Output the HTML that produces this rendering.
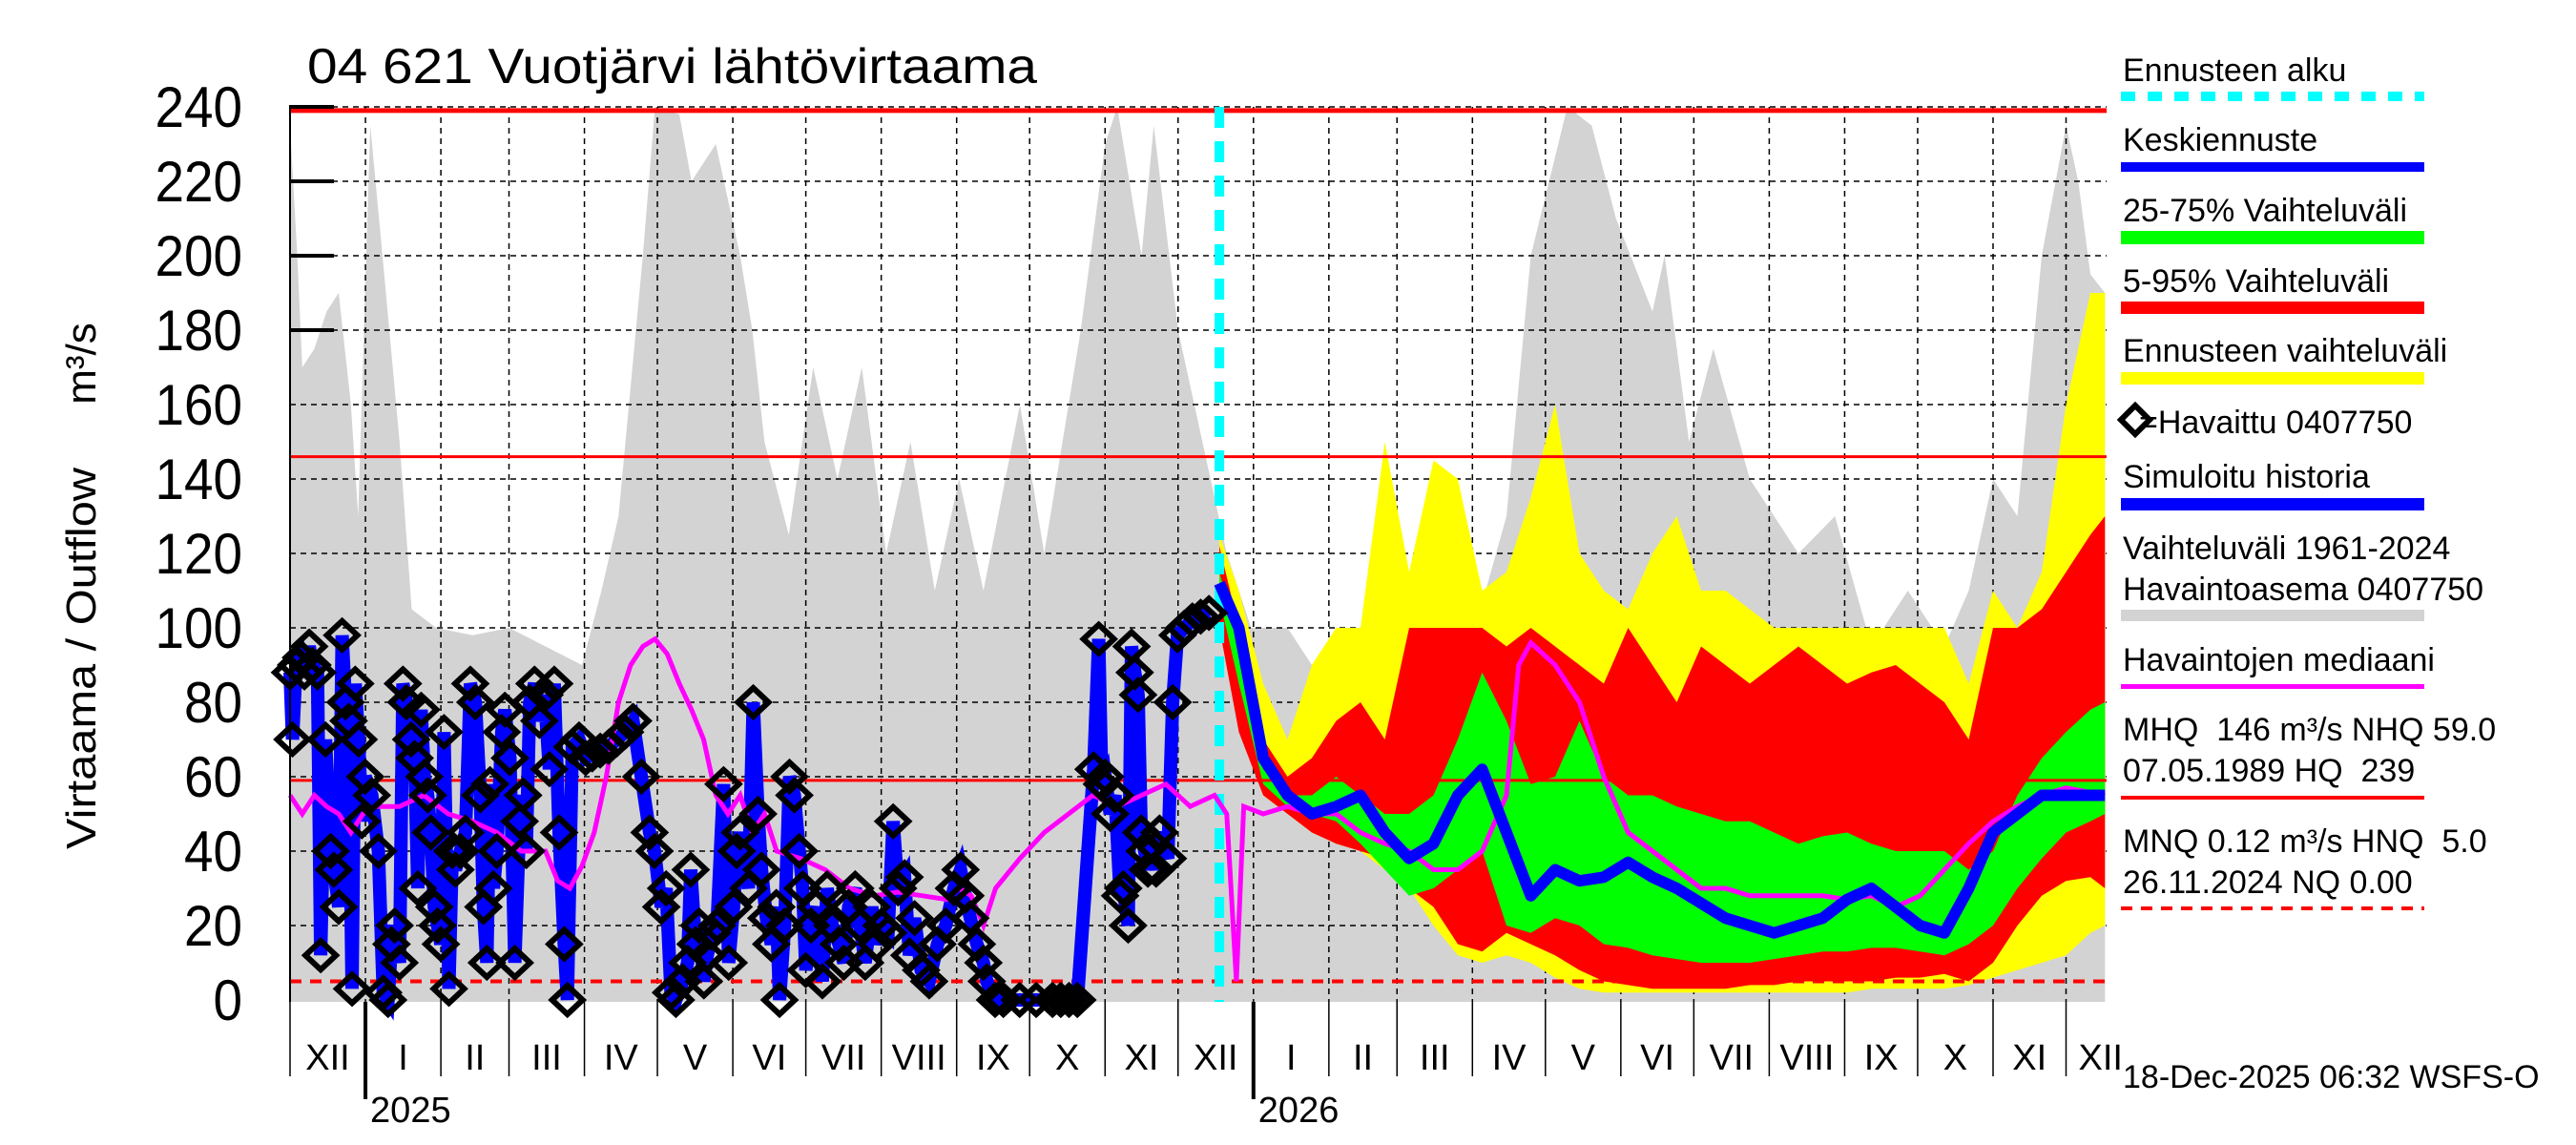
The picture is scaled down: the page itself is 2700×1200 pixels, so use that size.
<!DOCTYPE html>
<html><head><meta charset="utf-8">
<style>html,body{margin:0;padding:0;background:#fff}svg{display:block}text{font-family:"Liberation Sans",sans-serif}</style>
</head><body>
<svg id="chart" xmlns="http://www.w3.org/2000/svg" width="2700" height="1200" viewBox="0 0 2700 1200">
<rect x="0" y="0" width="2700" height="1200" fill="#fff"/>
<g id="plot"></g>
<text x="322" y="87" font-size="52" textLength="765" lengthAdjust="spacingAndGlyphs">04 621 Vuotjärvi lähtövirtaama</text>
<text transform="translate(100,690) rotate(-90)" text-anchor="middle" font-size="44" textLength="400" lengthAdjust="spacingAndGlyphs">Virtaama / Outflow</text>
<text transform="translate(100,381) rotate(-90)" text-anchor="middle" font-size="44">m³/s</text>
<g id="legend" font-size="34">
 <text x="2225" y="85">Ennusteen alku</text>
 <line x1="2223" y1="101" x2="2541" y2="101" stroke="#00ffff" stroke-width="10" stroke-dasharray="15,13"/>
 <text x="2225" y="158">Keskiennuste</text>
 <rect x="2223" y="170" width="318" height="10" fill="#0000ff"/>
 <text x="2225" y="232">25-75% Vaihteluväli</text>
 <rect x="2223" y="242" width="318" height="14" fill="#00ff00"/>
 <text x="2225" y="306">5-95% Vaihteluväli</text>
 <rect x="2223" y="316" width="318" height="13" fill="#ff0000"/>
 <text x="2225" y="379">Ennusteen vaihteluväli</text>
 <rect x="2223" y="390" width="318" height="13" fill="#ffff00"/>
 <polygon points="2223,440 2238,425 2253,440 2238,455" fill="none" stroke="#000" stroke-width="6"/>
 <text x="2242" y="454">=Havaittu 0407750</text>
 <text x="2225" y="511">Simuloitu historia</text>
 <rect x="2223" y="522" width="318" height="13" fill="#0000ff"/>
 <text x="2225" y="586">Vaihteluväli 1961-2024</text>
 <text x="2225" y="629">Havaintoasema 0407750</text>
 <rect x="2223" y="639" width="318" height="12" fill="#d3d3d3"/>
 <text x="2225" y="703">Havaintojen mediaani</text>
 <rect x="2223" y="717" width="318" height="5" fill="#ff00ff"/>
 <text x="2225" y="776" xml:space="preserve">MHQ  146 m³/s NHQ 59.0</text>
 <text x="2225" y="819" xml:space="preserve">07.05.1989 HQ  239</text>
 <rect x="2223" y="834" width="318" height="4" fill="#ff0000"/>
 <text x="2225" y="893" xml:space="preserve">MNQ 0.12 m³/s HNQ  5.0</text>
 <text x="2225" y="936">26.11.2024 NQ 0.00</text>
 <line x1="2223" y1="952" x2="2541" y2="952" stroke="#ff0000" stroke-width="4" stroke-dasharray="12,9"/>
</g>
<text x="2225" y="1140" font-size="34">18-Dec-2025 06:32 WSFS-O</text>
</svg>
<script>
// ---- data (days since 2024-12-01, values in m3/s) ----
const grayDays = [0,3,5,10,15,20,25,28,33,38,45,50,60,75,90,105,120,128,135,145,150,160,165,175,185,190,195,205,215,225,235,245,255,265,275,285,300,310,325,335,340,350,355,365,375,385,395,410,425,440,455,470,485,500,510,525,535,545,560,565,575,585,600,620,635,650,665,680,690,700,710,720,730,735,740,746];
const grayHigh = [235,200,170,175,185,190,160,130,235,200,150,105,100,98,100,95,90,110,130,200,240,238,220,230,200,180,150,125,170,140,170,120,150,110,140,110,160,120,180,230,240,200,235,180,150,120,100,100,85,100,100,100,95,130,200,240,235,210,185,200,150,175,140,120,130,95,110,95,110,140,130,200,235,220,195,190];
const fcDays = [382,390,400,410,420,430,440,450,460,470,480,490,500,510,520,530,540,550,560,570,580,590,600,610,620,630,640,650,660,670,680,690,700,710,720,730,740,746];
const yellowHigh = [125,110,85,70,90,100,100,150,115,145,140,110,115,135,160,120,110,105,120,130,110,110,105,100,100,100,100,100,100,100,100,85,110,100,115,160,190,190];
const yellowLow = [100,75,55,50,45,42,40,35,30,20,12,10,12,10,6,3,2,2,2,2,2,2,2,2,2,2,2,3,3,3,3,4,6,8,10,12,18,20];
const redHigh = [122,100,70,60,65,75,80,70,100,100,100,100,95,100,95,90,85,100,90,80,95,90,85,90,95,90,85,88,90,85,80,70,100,100,105,115,125,130];
const redLow = [100,72,55,50,45,42,40,38,30,25,15,13,18,15,12,8,5,4,3,3,3,3,4,4,5,5,5,5,6,6,7,5,10,20,28,32,33,30];
const greenHigh = [115,95,62,55,55,60,55,50,50,55,70,88,75,58,60,75,60,55,55,52,50,48,48,45,42,44,45,42,40,40,40,35,40,55,65,72,78,80];
const greenLow = [108,85,58,52,50,48,42,35,28,30,35,40,20,18,22,20,15,14,12,11,10,10,10,11,12,13,13,14,14,13,12,15,20,30,38,45,48,50];
const medianForecast = [112,100,65,55,50,52,55,45,38,42,55,62,45,28,35,32,33,37,33,30,26,22,20,18,20,22,27,30,25,20,18,30,45,50,55,55,55,55];
const medDays = [0,5,10,15,20,25,30,35,45,55,65,75,85,95,105,110,115,120,125,130,135,140,145,150,155,160,165,170,175,180,185,190,195,200,210,220,230,240,250,260,270,275,280,285,290,300,310,320,330,340,350,360,370,380,385,389,392,400,410,420,430,440,450,460,470,480,490,500,505,510,520,530,540,550,560,570,580,590,600,610,620,630,640,650,660,670,680,690,700,710,720,730,746];
const medValues = [55,50,55,52,50,45,50,52,52,55,50,48,45,40,40,32,30,36,45,60,80,90,95,97,93,85,78,70,55,50,55,45,50,40,38,35,30,28,29,28,27,30,28,20,30,38,45,50,55,52,55,58,52,55,50,5,52,50,52,50,50,45,42,40,35,35,40,55,90,96,90,80,60,45,40,35,30,30,28,28,28,28,27,28,25,28,35,42,48,52,55,57,55];
const obsDays = [0,1,2.5,4.5,5.9,7.9,9.2,11.3,12.6,14.6,16.7,18,20,21.4,22.8,24.1,25.5,26.8,28.2,29.5,30.9,33.6,36.3,38.3,40.3,41.7,43,45,46.4,47.8,49.8,51.2,52.5,53.9,55.2,56.6,57.9,59.3,60.6,62,63.3,65.3,66.7,68,70,72.1,74.1,76.2,78.2,79.5,80.9,82.2,83.6,85,87,88.3,90.4,92.4,94.4,95.8,97.1,98.5,100.5,102.5,104.6,106.6,108.6,110.6,112.7,114,116,118.8,121.5,124.2,127.5,130.9,134.3,137.7,141,144.4,147.8,149.8,152.6,154.6,156.6,158.6,161.3,163.4,164.7,166.7,168.1,170.1,171.5,173.5,175.5,178.2,180.3,182.3,183.6,185,188.4,190.4,192.4,193.8,195.8,197.8,199.9,201.2,203.3,205.3,207.3,209.3,210.7,212,214.1,216.1,218.8,220.8,222.9,225.6,227.6,229.6,232.3,234.3,236.4,239.1,241.1,243.1,245.8,247.9,249.9,252.6,254.6,256.7,259.4,262.7,266.1,269.5,272.9,275.6,277.6,279.6,282.3,285,286.4,289.8,293.2,299.9,306.7,313.4,316.8,320.2,323.6,330.3,332.4,333.7,335.1,337.1,339.1,341.2,342.5,344.5,345.9,347.2,348.6,349.9,351.3,352.6,354,356,357.4,360.8,362.8,364.8,367.5,370.9,374.3,377.7];
const obsValues = [88,70,90,92,88,95,90,88,12,70,40,35,25,98,80,75,3,85,70,48,60,55,40,2,0,15,20,10,85,80,70,65,30,78,60,55,45,25,20,15,72,3,40,35,40,45,85,80,55,25,10,58,30,40,72,78,65,10,48,55,40,80,85,75,82,62,85,45,15,0,68,70,65,66,67,68,70,72,75,60,45,40,25,30,2,0,5,10,35,15,20,5,12,18,20,58,10,25,40,45,30,80,50,35,22,15,25,0,20,60,55,40,30,8,20,25,5,30,20,15,10,25,30,20,10,25,15,20,18,48,30,33,12,22,8,5,15,20,30,35,28,22,15,10,5,0,0,0,0,0,0,0,0,62,97,58,60,50,55,28,30,20,95,88,82,45,40,35,42,35,45,38,80,98,100,102,103,104];
const simDays = obsDays;
const simValues = obsValues;
const yTicks = [0,20,40,60,80,100,120,140,160,180,200,220,240];
const monthLabels = ["XII","I","II","III","IV","V","VI","VII","VIII","IX","X","XI","XII","I","II","III","IV","V","VI","VII","VIII","IX","X","XI","XII"];
const yearLabels = ["2025","2026"];
const refLines = [239,146,59];
const hnqLevel = 5;
const forecastStartDay = 382;

const X0=304, X1=2208, PXD=2.55, Y0=1048, PXV=3.9, YB=1050;
function X(d){return X0+PXD*d;}
function Y(v){return Y0-PXV*v;}
const NS='http://www.w3.org/2000/svg';
const plot=document.getElementById('plot');
function mk(tag,attrs,parent){const e=document.createElementNS(NS,tag);for(const k in attrs)e.setAttribute(k,attrs[k]);(parent||plot).appendChild(e);return e;}
function band(days,hi,lo){let p=days.map((d,i)=>X(d).toFixed(1)+','+Y(hi[i]).toFixed(1));for(let i=days.length-1;i>=0;i--)p.push(X(days[i]).toFixed(1)+','+Y(lo[i]).toFixed(1));return p.join(' ');}
function line(days,vals){return days.map((d,i)=>X(d).toFixed(1)+','+Y(vals[i]).toFixed(1)).join(' ');}

const g=mk('polygon',{points:band(grayDays,grayHigh,grayDays.map(()=>-0.5)),fill:'#d3d3d3'});



const mStarts=[];
for(let i=0;i<=25;i++){const dt=new Date(Date.UTC(2024,11+i,1));mStarts.push(Math.round((dt-Date.UTC(2024,11,1))/86400000));}
mStarts.forEach((d,i)=>{if(i===0||X(d)>X1)return;
 const l=mk('line',{x1:X(d),y1:Y(240),x2:X(d),y2:YB,stroke:'#000','stroke-width':1.5,'stroke-dasharray':'6,5'});
 
 });
yTicks.forEach(v=>{if(v===0)return;
 const l=mk('line',{x1:X0,y1:Y(v),x2:X1,y2:Y(v),stroke:'#000','stroke-width':1.5,'stroke-dasharray':'6,5'});
 
 });

[[yellowHigh,yellowLow,'#ffff00','forecast-range-band'],[redHigh,redLow,'#ff0000','band-5-95'],[greenHigh,greenLow,'#00ff00','band-25-75']].forEach(b=>{
 const e=mk('polygon',{points:band(fcDays,b[0],b[1]),fill:b[2]});
 
 });

refLines.forEach(v=>{const e=mk('line',{x1:X0,y1:Y(v),x2:X1,y2:Y(v),stroke:'#ff0000','stroke-width':v===239?5:3});
 
 });
const hl=mk('line',{x1:X0,y1:Y(hnqLevel),x2:X1,y2:Y(hnqLevel),stroke:'#ff0000','stroke-width':4,'stroke-dasharray':'12,9'});



const sl=mk('polyline',{points:line(simDays,simValues),fill:'none',stroke:'#0000ff','stroke-width':14,'stroke-linejoin':'miter'});



const fs=mk('line',{x1:X(forecastStartDay),y1:Y(240),x2:X(forecastStartDay),y2:YB,stroke:'#00ffff','stroke-width':10,'stroke-dasharray':'22,14'});



const ml=mk('polyline',{points:line(medDays,medValues),fill:'none',stroke:'#ff00ff','stroke-width':5});



const bl=mk('polyline',{points:line(fcDays,medianForecast),fill:'none',stroke:'#0000ff','stroke-width':12,'stroke-linejoin':'round'});



obsDays.forEach((d,i)=>{const x=X(d),y=Y(obsValues[i]);
 const p=mk('polygon',{points:`${x-16},${y} ${x},${y-15} ${x+16},${y} ${x},${y+15}`,fill:'none',stroke:'#000','stroke-width':6});
 
 });

const ax=mk('line',{x1:X0,y1:Y(240)-2,x2:X0,y2:YB,stroke:'#000','stroke-width':2});


yTicks.forEach(v=>{
 const n=String(v).length;
 const t=mk('text',{x:254,y:Y(v)+21,'text-anchor':'end','font-size':60,textLength:n*30.5,lengthAdjust:'spacingAndGlyphs'});
 t.textContent=v;
 
 
 if(v>=180){const tk=mk('line',{x1:X0,y1:Y(v),x2:350,y2:Y(v),stroke:'#000','stroke-width':4});
  
  }
});
mStarts.forEach((d,i)=>{
 if(X(d)<=X1+1){const isYear=(i===1||i===13);
  const tk=mk('line',{x1:X(d),y1:YB,x2:X(d),y2:isYear?1152:1128,stroke:'#000','stroke-width':isYear?4:1.5});
  
  }
 if(i<monthLabels.length){const end=Math.min(X(mStarts[i+1]),X1+30);const cx=(X(d)+end)/2;
  const t=mk('text',{x:cx,y:1121,'text-anchor':'middle','font-size':38});
  t.textContent=monthLabels[i];
  
  }
});
yearLabels.forEach((lab,i)=>{const d=mStarts[i===0?1:13];
 const t=mk('text',{x:X(d)+5,y:1176,'font-size':38});
 t.textContent=lab;
 
 });
</script>
</body></html>
